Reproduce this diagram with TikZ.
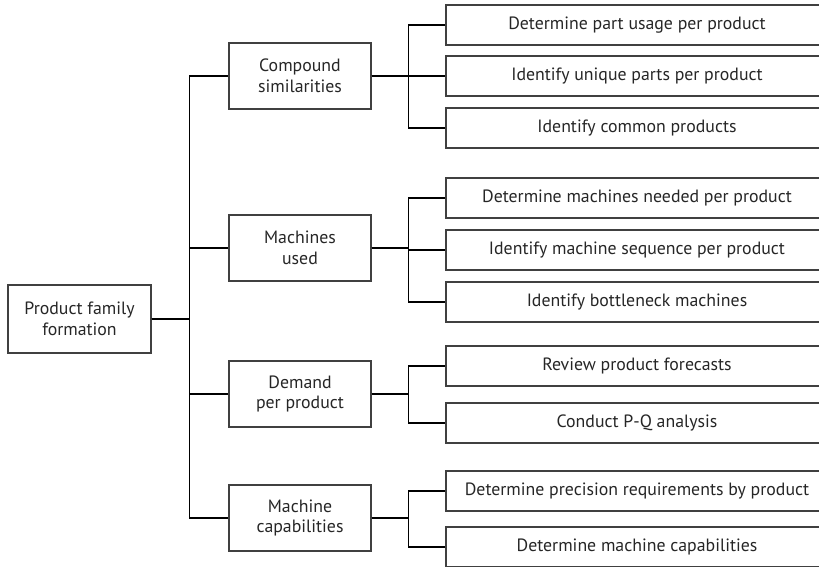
\documentclass[tikz,border=0pt]{standalone}
\usepackage{fontspec}
\setmainfont{PT Sans}
\begin{document}
\begin{tikzpicture}[x=1pt,y=-1pt,
  box/.style={draw=black!75,line width=1.1pt,rectangle,inner sep=0pt,
    align=center,font=\fontsize{17.8}{20.5}\selectfont,text=black!85},
  rootbox/.style={box,minimum width=143pt,minimum height=68pt},
  midbox/.style={box,minimum width=142pt,minimum height=66pt},
  leafbox/.style={box,minimum width=382pt,minimum height=40pt},
  link/.style={draw=black,line width=1.8pt,line join=miter}]
\useasboundingbox (0,0) rectangle (819,567);
\clip (0,0) rectangle (819,567);

% root
\node[rootbox] (root) at (79.5,319) {Product family\\formation};

% second level
\node[midbox] (m1) at (300,76)  {Compound\\similarities};
\node[midbox] (m2) at (300,248) {Machines\\used};
\node[midbox] (m3) at (300,394) {Demand\\per product};
\node[midbox] (m4) at (300,518) {Machine\\capabilities};

% third level
\node[leafbox] (a1) at (637,25)  {Determine part usage per product};
\node[leafbox] (a2) at (637,76)  {Identify unique parts per product};
\node[leafbox] (a3) at (637,128) {Identify common products};
\node[leafbox] (b1) at (637,198) {Determine machines needed per product};
\node[leafbox] (b2) at (637,250) {Identify machine sequence per product};
\node[leafbox] (b3) at (637,302) {Identify bottleneck machines};
\node[leafbox] (c1) at (637,366) {Review product forecasts};
\node[leafbox] (c2) at (637,423) {Conduct P-Q analysis};
\node[leafbox] (d1) at (637,491) {Determine precision requirements by product};
\node[leafbox] (d2) at (637,547) {Determine machine capabilities};

% connectors
\foreach \m in {m1,m2,m3,m4}
  \draw[link] (root.east) -- ++(38,0) |- (\m.west);
\foreach \l in {a1,a2,a3}
  \draw[link] (m1.east) -- ++(37,0) |- (\l.west);
\foreach \l in {b1,b2,b3}
  \draw[link] (m2.east) -- ++(37,0) |- (\l.west);
\foreach \l in {c1,c2}
  \draw[link] (m3.east) -- ++(37,0) |- (\l.west);
\foreach \l in {d1,d2}
  \draw[link] (m4.east) -- ++(37,0) |- (\l.west);
\end{tikzpicture}
\end{document}
